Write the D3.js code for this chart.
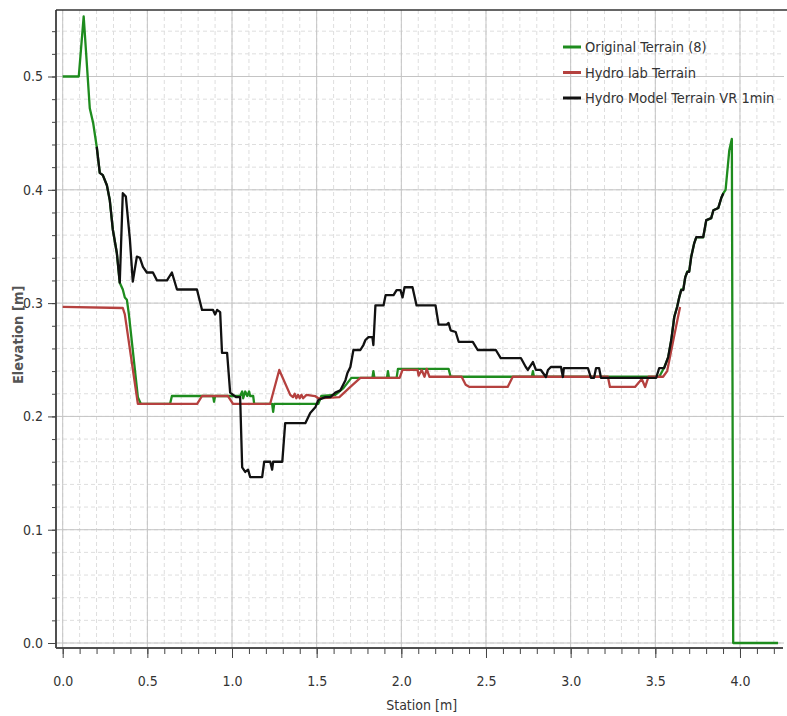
<!DOCTYPE html>
<html>
<head>
<meta charset="utf-8">
<script src="https://cdn.jsdelivr.net/npm/d3@7"></script>
<style>
  body { margin: 0; background: #fff; }
  text { font-family: "DejaVu Sans Condensed", "Liberation Sans Narrow", sans-serif; fill: #333; }
</style>
</head>
<body>
<script>
// station / elevation profiles, metres

var seriesNames = ['Original Terrain (8)', 'Hydro lab Terrain', 'Hydro Model Terrain VR 1min'];
var seriesColors = ['#1e8c1e', '#b5413f', '#111111'];

var originalTerrain = [
  [0, 0.5], [0.095, 0.5], [0.124, 0.553], [0.160, 0.472], [0.180, 0.459], [0.201, 0.438],
  [0.219, 0.415], [0.237, 0.413], [0.261, 0.404], [0.278, 0.391], [0.296, 0.365], [0.320, 0.344],
  [0.337, 0.318], [0.355, 0.312], [0.367, 0.305], [0.379, 0.303], [0.391, 0.29], [0.444, 0.217],
  [0.462, 0.211], [0.634, 0.211], [0.645, 0.218], [0.888, 0.218], [0.894, 0.213], [0.900, 0.218],
  [1.048, 0.218], [1.060, 0.222], [1.066, 0.216], [1.078, 0.222], [1.090, 0.218], [1.101, 0.222],
  [1.107, 0.218], [1.125, 0.218], [1.131, 0.211], [1.237, 0.211], [1.243, 0.204], [1.249, 0.211],
  [1.510, 0.211], [1.527, 0.218], [1.610, 0.219], [1.658, 0.225], [1.705, 0.234], [1.829, 0.234],
  [1.835, 0.240], [1.841, 0.234], [1.915, 0.234], [1.921, 0.240], [1.927, 0.234], [1.972, 0.234],
  [1.980, 0.242], [2.279, 0.242], [2.291, 0.235], [2.771, 0.235], [2.777, 0.240], [2.783, 0.235],
  [3.523, 0.235], [3.552, 0.243], [3.576, 0.252], [3.594, 0.267], [3.612, 0.288], [3.629, 0.297],
  [3.641, 0.305], [3.653, 0.312], [3.665, 0.312], [3.677, 0.323], [3.689, 0.328], [3.700, 0.328],
  [3.712, 0.341], [3.730, 0.353], [3.742, 0.358], [3.783, 0.358], [3.801, 0.373], [3.830, 0.375],
  [3.843, 0.382], [3.872, 0.384], [3.890, 0.393], [3.902, 0.397], [3.915, 0.400], [3.937, 0.435],
  [3.952, 0.445], [3.960, 0.0], [4.225, 0.0]
];

var hydroLab = [
  [0, 0.2966], [0.355, 0.2957], [0.367, 0.29], [0.444, 0.211], [0.794, 0.211], [0.823, 0.218],
  [0.976, 0.218], [1.006, 0.211], [1.225, 0.211], [1.279, 0.241], [1.344, 0.219], [1.36, 0.217],
  [1.37, 0.220], [1.38, 0.216], [1.39, 0.219], [1.40, 0.216], [1.41, 0.219], [1.42, 0.216],
  [1.44, 0.219], [1.49, 0.218], [1.51, 0.216], [1.634, 0.217], [1.699, 0.226], [1.758, 0.234],
  [1.990, 0.234], [2.007, 0.241], [2.096, 0.241], [2.102, 0.236], [2.120, 0.241], [2.137, 0.235],
  [2.150, 0.242], [2.166, 0.235], [2.356, 0.235], [2.380, 0.228], [2.403, 0.226], [2.628, 0.226],
  [2.658, 0.235], [3.220, 0.235], [3.232, 0.226], [3.380, 0.226], [3.420, 0.233], [3.440, 0.226],
  [3.460, 0.235], [3.546, 0.235], [3.570, 0.240], [3.610, 0.270], [3.646, 0.2966]
];

var hydroModel = [
  [0.201, 0.438], [0.219, 0.415], [0.237, 0.413], [0.261, 0.404], [0.278, 0.391], [0.296, 0.365],
  [0.320, 0.344], [0.337, 0.318], [0.355, 0.397], [0.373, 0.394], [0.397, 0.356], [0.414, 0.319],
  [0.438, 0.341], [0.456, 0.340], [0.474, 0.332], [0.497, 0.327], [0.533, 0.327], [0.557, 0.320],
  [0.616, 0.320], [0.645, 0.327], [0.675, 0.312], [0.793, 0.312], [0.823, 0.294], [0.888, 0.294],
  [0.900, 0.290], [0.912, 0.294], [0.930, 0.292], [0.941, 0.256], [0.971, 0.256], [0.989, 0.221],
  [1.024, 0.217], [1.048, 0.217], [1.060, 0.155], [1.078, 0.151], [1.095, 0.153], [1.107, 0.1465],
  [1.178, 0.1465], [1.190, 0.160], [1.226, 0.160], [1.237, 0.153], [1.243, 0.160], [1.297, 0.160],
  [1.314, 0.194], [1.433, 0.194], [1.462, 0.203], [1.492, 0.208], [1.510, 0.2145], [1.551, 0.217],
  [1.581, 0.217], [1.610, 0.221], [1.640, 0.223], [1.670, 0.232], [1.681, 0.238], [1.699, 0.2436],
  [1.717, 0.2586], [1.758, 0.2586], [1.776, 0.263], [1.788, 0.2674], [1.806, 0.270], [1.829, 0.270],
  [1.835, 0.263], [1.847, 0.298], [1.895, 0.298], [1.907, 0.307], [1.954, 0.307], [1.972, 0.3115],
  [1.995, 0.3115], [2.007, 0.305], [2.019, 0.314], [2.066, 0.314], [2.090, 0.298], [2.202, 0.298],
  [2.220, 0.281], [2.268, 0.281], [2.279, 0.2825], [2.291, 0.276], [2.321, 0.2745], [2.339, 0.2657],
  [2.422, 0.2657], [2.451, 0.2586], [2.558, 0.2586], [2.587, 0.2515], [2.706, 0.2515], [2.735, 0.2436],
  [2.747, 0.241], [2.777, 0.248], [2.795, 0.241], [2.824, 0.241], [2.854, 0.2348], [2.866, 0.241],
  [2.883, 0.2436], [2.943, 0.2436], [2.954, 0.2348], [2.960, 0.2427], [3.102, 0.2427], [3.120, 0.234],
  [3.138, 0.234], [3.150, 0.2427], [3.168, 0.2427], [3.179, 0.234], [3.505, 0.234], [3.523, 0.2427],
  [3.552, 0.2427], [3.576, 0.2524], [3.594, 0.2674], [3.612, 0.2877], [3.629, 0.2966], [3.641, 0.305],
  [3.653, 0.3115], [3.665, 0.3115], [3.677, 0.323], [3.689, 0.3275], [3.700, 0.3275], [3.712, 0.3407],
  [3.730, 0.353], [3.742, 0.3583], [3.783, 0.3583], [3.801, 0.3733], [3.830, 0.375], [3.843, 0.382],
  [3.872, 0.384], [3.890, 0.393], [3.902, 0.397]
];

var xTicks = [0, 0.5, 1.0, 1.5, 2.0, 2.5, 3.0, 3.5, 4.0];
var yTicks = [0, 0.1, 0.2, 0.3, 0.4, 0.5];

var W = 787, H = 716;
var pLeft = 56, pRight = 784, pTop = 10, pBottom = 648;

var svg = d3.select('body').append('svg')
  .attr('width', W)
  .attr('height', H)

var x = d3.scaleLinear().domain([-0.0395, 4.26]).range([pLeft, pRight]);
var y = d3.scaleLinear().domain([-0.0044, 0.5587]).range([pBottom, pTop]);

var xMinor = d3.range(0, 43).map(function(i) { return i / 10; });
var yMinor = d3.range(0, 28).map(function(i) { return i / 50; });

// minor grid (dashed)
svg.append('g').selectAll('line')
  .data(xMinor)
  .enter().append('line')
  .attr('x1', function(d) { return x(d); }).attr('x2', function(d) { return x(d); })
  .attr('y1', pTop).attr('y2', pBottom)
  .attr('stroke', '#dedede').attr('stroke-dasharray', '4,3')

svg.append('g').selectAll('line')
  .data(yMinor)
  .enter().append('line')
  .attr('y1', function(d) { return y(d); }).attr('y2', function(d) { return y(d); })
  .attr('x1', pLeft).attr('x2', pRight)
  .attr('stroke', '#dedede').attr('stroke-dasharray', '4,3')

// major grid
svg.append('g').selectAll('line')
  .data(xTicks)
  .enter().append('line')
  .attr('x1', function(d) { return x(d); }).attr('x2', function(d) { return x(d); })
  .attr('y1', pTop).attr('y2', pBottom)
  .attr('stroke', '#c4c4c4')

svg.append('g').selectAll('line')
  .data(yTicks)
  .enter().append('line')
  .attr('y1', function(d) { return y(d); }).attr('y2', function(d) { return y(d); })
  .attr('x1', pLeft).attr('x2', pRight)
  .attr('stroke', '#c4c4c4')

// axes
var xAxis = svg.append('g').attr('transform', 'translate(0,' + pBottom + ')');
xAxis.call(d3.axisBottom(x).tickValues(xMinor).tickSize(6).tickFormat(''));
xAxis.append('g').call(d3.axisBottom(x).tickValues(xTicks).tickSize(10).tickPadding(18).tickFormat(d3.format('.1f')));
xAxis.selectAll('path.domain').attr('stroke', '#444').attr('stroke-width', 1.5).attr('d', 'M' + pLeft + ',0H' + (pRight - 1));
xAxis.selectAll('.tick line').attr('stroke', '#444');
xAxis.selectAll('text').attr('font-size', 14).attr('fill', '#333').attr('font-family', null);

var yAxis = svg.append('g').attr('transform', 'translate(' + pLeft + ',0)');
yAxis.call(d3.axisLeft(y).tickValues(yMinor).tickSize(4).tickFormat(''));
yAxis.append('g').call(d3.axisLeft(y).tickValues(yTicks).tickSize(8).tickPadding(5).tickFormat(d3.format('.1f')));
yAxis.selectAll('path.domain').attr('stroke', '#444').attr('stroke-width', 1.5).attr('d', 'M0,' + pTop + 'V' + pBottom);
yAxis.selectAll('.tick line').attr('stroke', '#444');
yAxis.selectAll('text').attr('font-size', 14).attr('fill', '#333').attr('font-family', null);

// top frame
svg.append('line')
  .attr('x1', pLeft).attr('x2', W).attr('y1', pTop).attr('y2', pTop)
  .attr('stroke', '#333').attr('stroke-width', 1.5)

svg.append('text')
  .attr('x', x(2.12)).attr('y', 710)
  .attr('text-anchor', 'middle').attr('font-size', 14)
  .text('Station [m]')

svg.append('text')
  .attr('transform', 'translate(23,' + y(0.272) + ') rotate(-90)')
  .attr('text-anchor', 'middle').attr('font-size', 14.5)
  .attr('font-weight', 600)
  .style('fill', '#555')
  .text('Elevation [m]')

// profiles
var line = d3.line()
  .x(function(d) { return x(d[0]); })
  .y(function(d) { return y(d[1]); });

var allSeries = [originalTerrain, hydroLab, hydroModel];

svg.append('g').selectAll('path')
  .data(allSeries)
  .enter().append('path')
  .attr('d', line)
  .attr('fill', 'none')
  .attr('stroke', function(d, i) { return seriesColors[i]; })
  .attr('stroke-width', 2.3)
  .attr('stroke-linejoin', 'round')

// legend
var legend = svg.append('g').attr('transform', 'translate(563,47)');
var rows = legend.selectAll('g')
  .data(seriesNames)
  .enter().append('g')
  .attr('transform', function(d, i) { return 'translate(0,' + (i * 25.5) + ')'; })

rows.append('line')
  .attr('x1', 0).attr('x2', 18).attr('y1', 0).attr('y2', 0)
  .attr('stroke-width', 3)
  .attr('stroke', function(d, i) { return seriesColors[i]; })

rows.append('text')
  .attr('x', 22).attr('y', 5)
  .attr('font-size', 14.5)
  .text(function(d) { return d; })
</script>
</body>
</html>
